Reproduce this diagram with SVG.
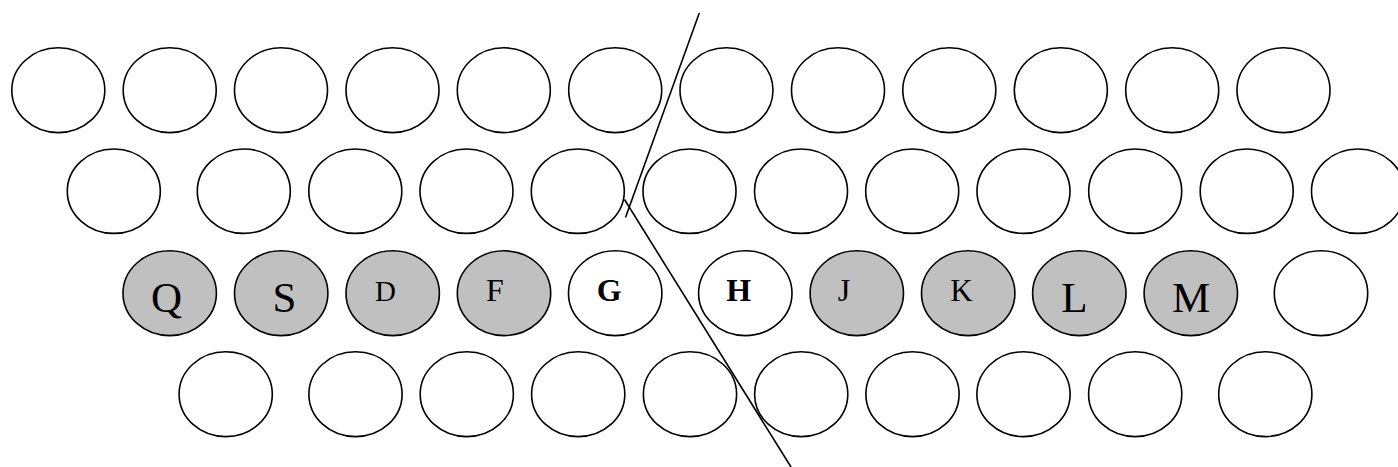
<svg xmlns="http://www.w3.org/2000/svg" width="1398" height="467" viewBox="0 0 1398 467">
<style>
.k{fill:#fff;stroke:#000;stroke-width:1.6}
.g{fill:#c0c0c0;stroke:#000;stroke-width:1.6}
.t{font-family:"Liberation Serif","Times New Roman",serif;fill:#000;text-anchor:middle}
.b{font-weight:bold}
.c{stroke:#000;stroke-width:1.6;fill:none}
</style>
<rect width="1398" height="467" fill="#fff"/>
<g id="row1">
<ellipse id="r1k1" class="k" cx="58.3" cy="90.2" rx="46.5" ry="42.4"/>
<ellipse id="r1k2" class="k" cx="169.7" cy="90.2" rx="46.5" ry="42.4"/>
<ellipse id="r1k3" class="k" cx="281" cy="90.2" rx="46.5" ry="42.4"/>
<ellipse id="r1k4" class="k" cx="392.5" cy="90.2" rx="46.5" ry="42.4"/>
<ellipse id="r1k5" class="k" cx="503.8" cy="90.2" rx="46.5" ry="42.4"/>
<ellipse id="r1k6" class="k" cx="615.2" cy="90.2" rx="46.5" ry="42.4"/>
<ellipse id="r1k7" class="k" cx="726.5" cy="90.2" rx="46.5" ry="42.4"/>
<ellipse id="r1k8" class="k" cx="838" cy="90.2" rx="46.5" ry="42.4"/>
<ellipse id="r1k9" class="k" cx="949.3" cy="90.2" rx="46.5" ry="42.4"/>
<ellipse id="r1k10" class="k" cx="1060.8" cy="90.2" rx="46.5" ry="42.4"/>
<ellipse id="r1k11" class="k" cx="1172.2" cy="90.2" rx="46.5" ry="42.4"/>
<ellipse id="r1k12" class="k" cx="1283.5" cy="90.2" rx="46.5" ry="42.4"/>
</g>
<g id="row2">
<ellipse id="r2k1" class="k" cx="113.8" cy="191.2" rx="46.5" ry="42.2"/>
<ellipse id="r2k2" class="k" cx="243.8" cy="191.2" rx="46.5" ry="42.2"/>
<ellipse id="r2k3" class="k" cx="355.3" cy="191.2" rx="46.5" ry="42.2"/>
<ellipse id="r2k4" class="k" cx="466.5" cy="191.2" rx="46.5" ry="42.2"/>
<ellipse id="r2k5" class="k" cx="577.8" cy="191.2" rx="46.5" ry="42.2"/>
<ellipse id="r2k6" class="k" cx="689.5" cy="191.2" rx="46.5" ry="42.2"/>
<ellipse id="r2k7" class="k" cx="801" cy="191.2" rx="46.5" ry="42.2"/>
<ellipse id="r2k8" class="k" cx="912.2" cy="191.2" rx="46.5" ry="42.2"/>
<ellipse id="r2k9" class="k" cx="1023.5" cy="191.2" rx="46.5" ry="42.2"/>
<ellipse id="r2k10" class="k" cx="1135.2" cy="191.2" rx="46.5" ry="42.2"/>
<ellipse id="r2k11" class="k" cx="1246.7" cy="191.2" rx="46.5" ry="42.2"/>
<ellipse id="r2k12" class="k" cx="1358" cy="191.2" rx="46.5" ry="42.2"/>
</g>
<g id="row3">
<g id="keyQ"><ellipse class="g" cx="169.7" cy="293.2" rx="46.7" ry="42.4"/><text class="t" x="166.5" y="311.5" font-size="43">Q</text></g>
<g id="keyS"><ellipse class="g" cx="281.2" cy="293.2" rx="46.7" ry="42.4"/><text class="t" x="284.5" y="311.5" font-size="43">S</text></g>
<g id="keyD"><ellipse class="g" cx="392.7" cy="293.2" rx="46.7" ry="42.4"/><text class="t" x="385.5" y="301" font-size="29">D</text></g>
<g id="keyF"><ellipse class="g" cx="504" cy="293.2" rx="46.7" ry="42.4"/><text class="t" x="495" y="301" font-size="32">F</text></g>
<g id="keyG"><ellipse class="k" cx="615.2" cy="293.2" rx="46.7" ry="42.4"/><text class="t b" x="609.3" y="301" font-size="32">G</text></g>
<g id="keyH"><ellipse class="k" cx="745.3" cy="293.2" rx="46.7" ry="42.4"/><text class="t b" x="738.8" y="301" font-size="32">H</text></g>
<g id="keyJ"><ellipse class="g" cx="856.8" cy="293.2" rx="46.7" ry="42.4"/><text class="t" x="844" y="301" font-size="32">J</text></g>
<g id="keyK"><ellipse class="g" cx="968.2" cy="293.2" rx="46.7" ry="42.4"/><text class="t" x="961.5" y="301" font-size="31">K</text></g>
<g id="keyL"><ellipse class="g" cx="1079.3" cy="293.2" rx="46.7" ry="42.4"/><text class="t" x="1074.5" y="311.5" font-size="43">L</text></g>
<g id="keyM"><ellipse class="g" cx="1190.8" cy="293.2" rx="46.7" ry="42.4"/><text class="t" x="1191" y="311.5" font-size="43">M</text></g>
<ellipse id="r3k11" class="k" cx="1321" cy="293.2" rx="46.7" ry="42.4"/>
</g>
<g id="row4">
<ellipse id="r4k1" class="k" cx="225.7" cy="394.2" rx="46.6" ry="42.4"/>
<ellipse id="r4k2" class="k" cx="355.5" cy="394.2" rx="46.6" ry="42.4"/>
<ellipse id="r4k3" class="k" cx="466.8" cy="394.2" rx="46.6" ry="42.4"/>
<ellipse id="r4k4" class="k" cx="578.2" cy="394.2" rx="46.6" ry="42.4"/>
<ellipse id="r4k5" class="k" cx="690" cy="394.2" rx="46.6" ry="42.4"/>
<ellipse id="r4k6" class="k" cx="801.2" cy="394.2" rx="46.6" ry="42.4"/>
<ellipse id="r4k7" class="k" cx="912.5" cy="394.2" rx="46.6" ry="42.4"/>
<ellipse id="r4k8" class="k" cx="1023.5" cy="394.2" rx="46.6" ry="42.4"/>
<ellipse id="r4k9" class="k" cx="1135.2" cy="394.2" rx="46.6" ry="42.4"/>
<ellipse id="r4k10" class="k" cx="1265.3" cy="394.2" rx="46.6" ry="42.4"/>
</g>
<g id="connectors">
<line class="c" x1="699.3" y1="13" x2="625.5" y2="217.5"/>
<line class="c" x1="624.5" y1="199.5" x2="791" y2="467"/>
</g>
</svg>
